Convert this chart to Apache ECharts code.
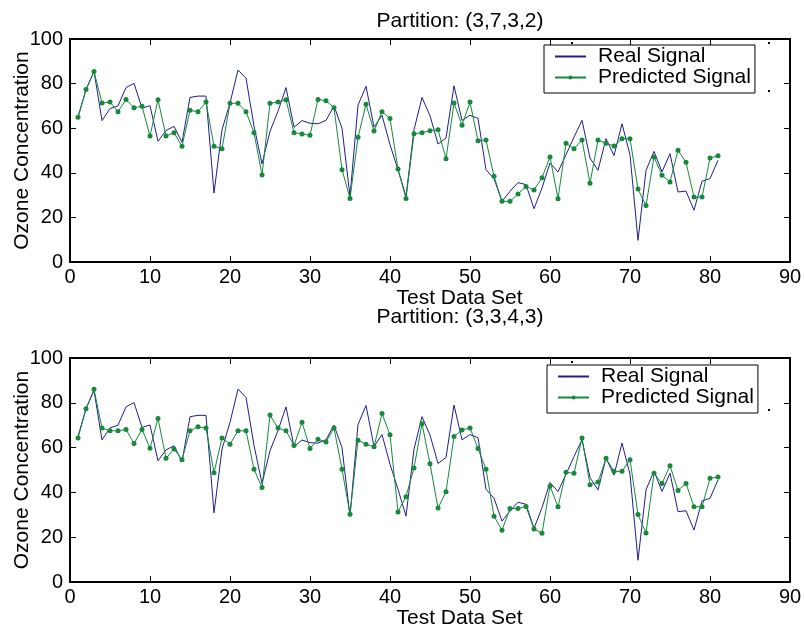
<!DOCTYPE html>
<html>
<head>
<meta charset="utf-8">
<script src="https://cdn.jsdelivr.net/npm/echarts@6/dist/echarts.min.js"></script>
<style>html,body{margin:0;padding:0;background:#fff;}#c{width:804px;height:628px;}</style>
</head>
<body>
<div id="c"></div>
<script>
// ---- data ----
const testIndex = Array.from({length: 81}, (_, i) => i + 1);
const realSignal = [65, 77.3, 85.5, 63.4, 68.8, 70, 78.2, 80.1, 69, 70.1,
  54.1, 59, 60.8, 53.7, 73.8, 74.4, 74.4, 30.9, 59.3, 71.3,
  86.1, 82.4, 61, 44, 58.6, 67.6, 78.2, 60.4, 63.4, 62.2,
  62, 63.5, 70, 60, 29.4, 70.3, 78.8, 60.5, 65.8, 52.6,
  41.4, 29.4, 59.3, 73.8, 65.6, 52.9, 55.6, 79, 63.5, 65.8,
  64.4, 41.4, 37.4, 27.2, 31.7, 35.6, 34.7, 23.9, 33.2, 44.4,
  40.4, 48.1, 56, 63.5, 46.6, 41.1, 55.3, 47.7, 62, 48.1,
  9.7, 41.1, 49.6, 40.4, 48.6, 31.4, 31.8, 23.2, 36.2, 37.4, 45.6];
const predicted1 = [64.9, 77.3, 85.4, 71.3, 71.7, 67.4, 72.9, 69.2, 69.8, 56.5,
  72.8, 56.5, 58, 51.9, 68, 67.4, 71.7, 51.9, 50.8, 71.2,
  71.2, 67.4, 58, 39, 71.2, 71.7, 72.8, 58, 57.4, 56.8,
  72.9, 72.3, 69.2, 41.4, 28.5, 55.9, 70.7, 58.7, 67.4, 64.3,
  41.7, 28.5, 57.5, 58, 58.9, 59.3, 46.3, 71.3, 61.3, 71.7,
  54.4, 54.7, 38.4, 27.2, 27.2, 30.5, 33.9, 32.3, 37.8, 47.1,
  28.4, 53.2, 50.8, 54.7, 35.3, 54.7, 53.2, 52, 55.3, 55.3,
  32.7, 25.3, 47.1, 38.9, 35.9, 50.1, 44.7, 29.1, 29.1, 46.6, 47.7];
const predicted2 = [64.3, 77.3, 86, 68.7, 67.5, 67.5, 68.1, 61.8, 68.1, 59.7,
  73, 55.2, 59.4, 54.6, 67.5, 69.3, 68.7, 48.8, 64.3, 61.5,
  67.5, 67.5, 50.3, 42.2, 74.5, 68.7, 67.5, 60.9, 71.3, 59.6,
  63.7, 62.5, 68.8, 50.3, 30.3, 63.3, 61.5, 60.4, 75.2, 65.7,
  31.3, 38.1, 50.9, 70.7, 52.8, 33, 40.3, 64.9, 67.9, 68.8,
  59.6, 50.3, 29.4, 23.1, 32.8, 32.8, 33.7, 23.7, 21.8, 42.8,
  33.6, 49, 48.5, 64.3, 43.4, 44.6, 55.2, 49.4, 49.4, 54.6,
  30.1, 21.9, 48.5, 44, 51.9, 40.9, 44, 33.6, 33.6, 46.3, 46.9];
const titles = ['Partition: (3,7,3,2)', 'Partition: (3,3,4,3)'];
const xTicks = {min: 0, max: 90, interval: 10};
const yTicks = {min: 0, max: 100, interval: 20};
const seriesNames = ['Real Signal', 'Predicted Signal'];
const xLabel = 'Test Data Set';
const yLabel = 'Ozone Concentration';

// ---- chart ----
const FONT = '"Liberation Sans", Arial, Helvetica, sans-serif';
const BLUE = '#1e1e8e';
const GREEN = '#16893a';
const pair = (arr) => arr.map((v, i) => [testIndex[i], v]);

const grids = [
  {left: 70, top: 39, width: 720, height: 223, outerBoundsMode: 'none', containLabel: false},
  {left: 70, top: 358, width: 720, height: 224, outerBoundsMode: 'none', containLabel: false}
];
const axisLine = {show: true, onZero: false, lineStyle: {color: '#000', width: 2}};
const axisTick = {show: true, inside: true, length: 6, lineStyle: {color: '#000', width: 1}};

const xAxes = [], yAxes = [];
grids.forEach((g, gi) => {
  xAxes.push({
    gridIndex: gi, type: 'value', position: 'bottom',
    min: xTicks.min, max: xTicks.max, interval: xTicks.interval,
    axisLine, axisTick, splitLine: {show: false},
    axisLabel: {fontSize: 20, color: '#000', margin: 5, fontFamily: FONT},
    name: xLabel, nameLocation: 'middle', nameGap: 26, nameMoveOverlap: false,
    nameTextStyle: {fontSize: 21, color: '#000', fontFamily: FONT, padding: [0, 0, 0, 59]}
  });
  xAxes.push({
    gridIndex: gi, type: 'value', position: 'top',
    min: xTicks.min, max: xTicks.max, interval: xTicks.interval,
    axisLine, axisTick, splitLine: {show: false}, axisLabel: {show: false}
  });
  yAxes.push({
    gridIndex: gi, type: 'value', position: 'left',
    min: yTicks.min, max: yTicks.max, interval: yTicks.interval,
    axisLine, axisTick, splitLine: {show: false},
    axisLabel: {fontSize: 20, color: '#000', margin: 7, fontFamily: FONT},
    name: yLabel, nameLocation: 'middle', nameGap: 37, nameRotate: 90, nameMoveOverlap: false,
    nameTextStyle: {fontSize: 21, color: '#000', fontFamily: FONT}
  });
  yAxes.push({
    gridIndex: gi, type: 'value', position: 'right',
    min: yTicks.min, max: yTicks.max, interval: yTicks.interval,
    axisLine, axisTick, splitLine: {show: false}, axisLabel: {show: false}
  });
});

const series = [];
[predicted1, predicted2].forEach((pred, gi) => {
  series.push({
    type: 'line', name: seriesNames[0], xAxisIndex: gi * 2, yAxisIndex: gi * 2,
    data: pair(realSignal), symbol: 'none',
    lineStyle: {color: BLUE, width: 1}, itemStyle: {color: BLUE}, z: 2
  });
  series.push({
    type: 'line', name: seriesNames[1], xAxisIndex: gi * 2, yAxisIndex: gi * 2,
    data: pair(pred), symbol: 'circle', symbolSize: 5, showSymbol: true,
    lineStyle: {color: GREEN, width: 1}, itemStyle: {color: GREEN}, z: 3
  });
});

const legendBase = {
  data: [{name: seriesNames[0], itemStyle: {opacity: 0}}, {name: seriesNames[1]}],
  orient: 'vertical', itemGap: 0, itemWidth: 31, itemHeight: 5,
  backgroundColor: '#fff', borderColor: '#000', borderWidth: 1, borderRadius: 0,
  padding: [1, 4, 5, 10], selectedMode: false,
  textStyle: {fontSize: 21, color: '#000', fontFamily: FONT, lineHeight: 21, padding: [0, 0, 0, 7]}
};

const dot = (x, y) => ({type: 'rect', shape: {x: x, y: y, width: 2, height: 2}, style: {fill: '#000'}, silent: true, z: 100});

const option = {
  animation: false,
  backgroundColor: '#fff',
  grid: grids,
  xAxis: xAxes,
  yAxis: yAxes,
  legend: [
    Object.assign({}, legendBase, {left: 544, top: 45}),
    Object.assign({}, legendBase, {left: 547, top: 365})
  ],
  series,
  graphic: [
    {type: 'text', x: 460, y: 21, style: {text: titles[0], fontSize: 21, fontFamily: FONT, fill: '#000', textAlign: 'center', textVerticalAlign: 'middle'}},
    {type: 'text', x: 460, y: 317, style: {text: titles[1], fontSize: 21, fontFamily: FONT, fill: '#000', textAlign: 'center', textVerticalAlign: 'middle'}},
    dot(571, 42), dot(768, 42), dot(768, 90), dot(571, 361), dot(768, 409)
  ]
};
const chart = echarts.init(document.getElementById('c'), null, {renderer: 'canvas'});
chart.setOption(option);
</script>
</body>
</html>
